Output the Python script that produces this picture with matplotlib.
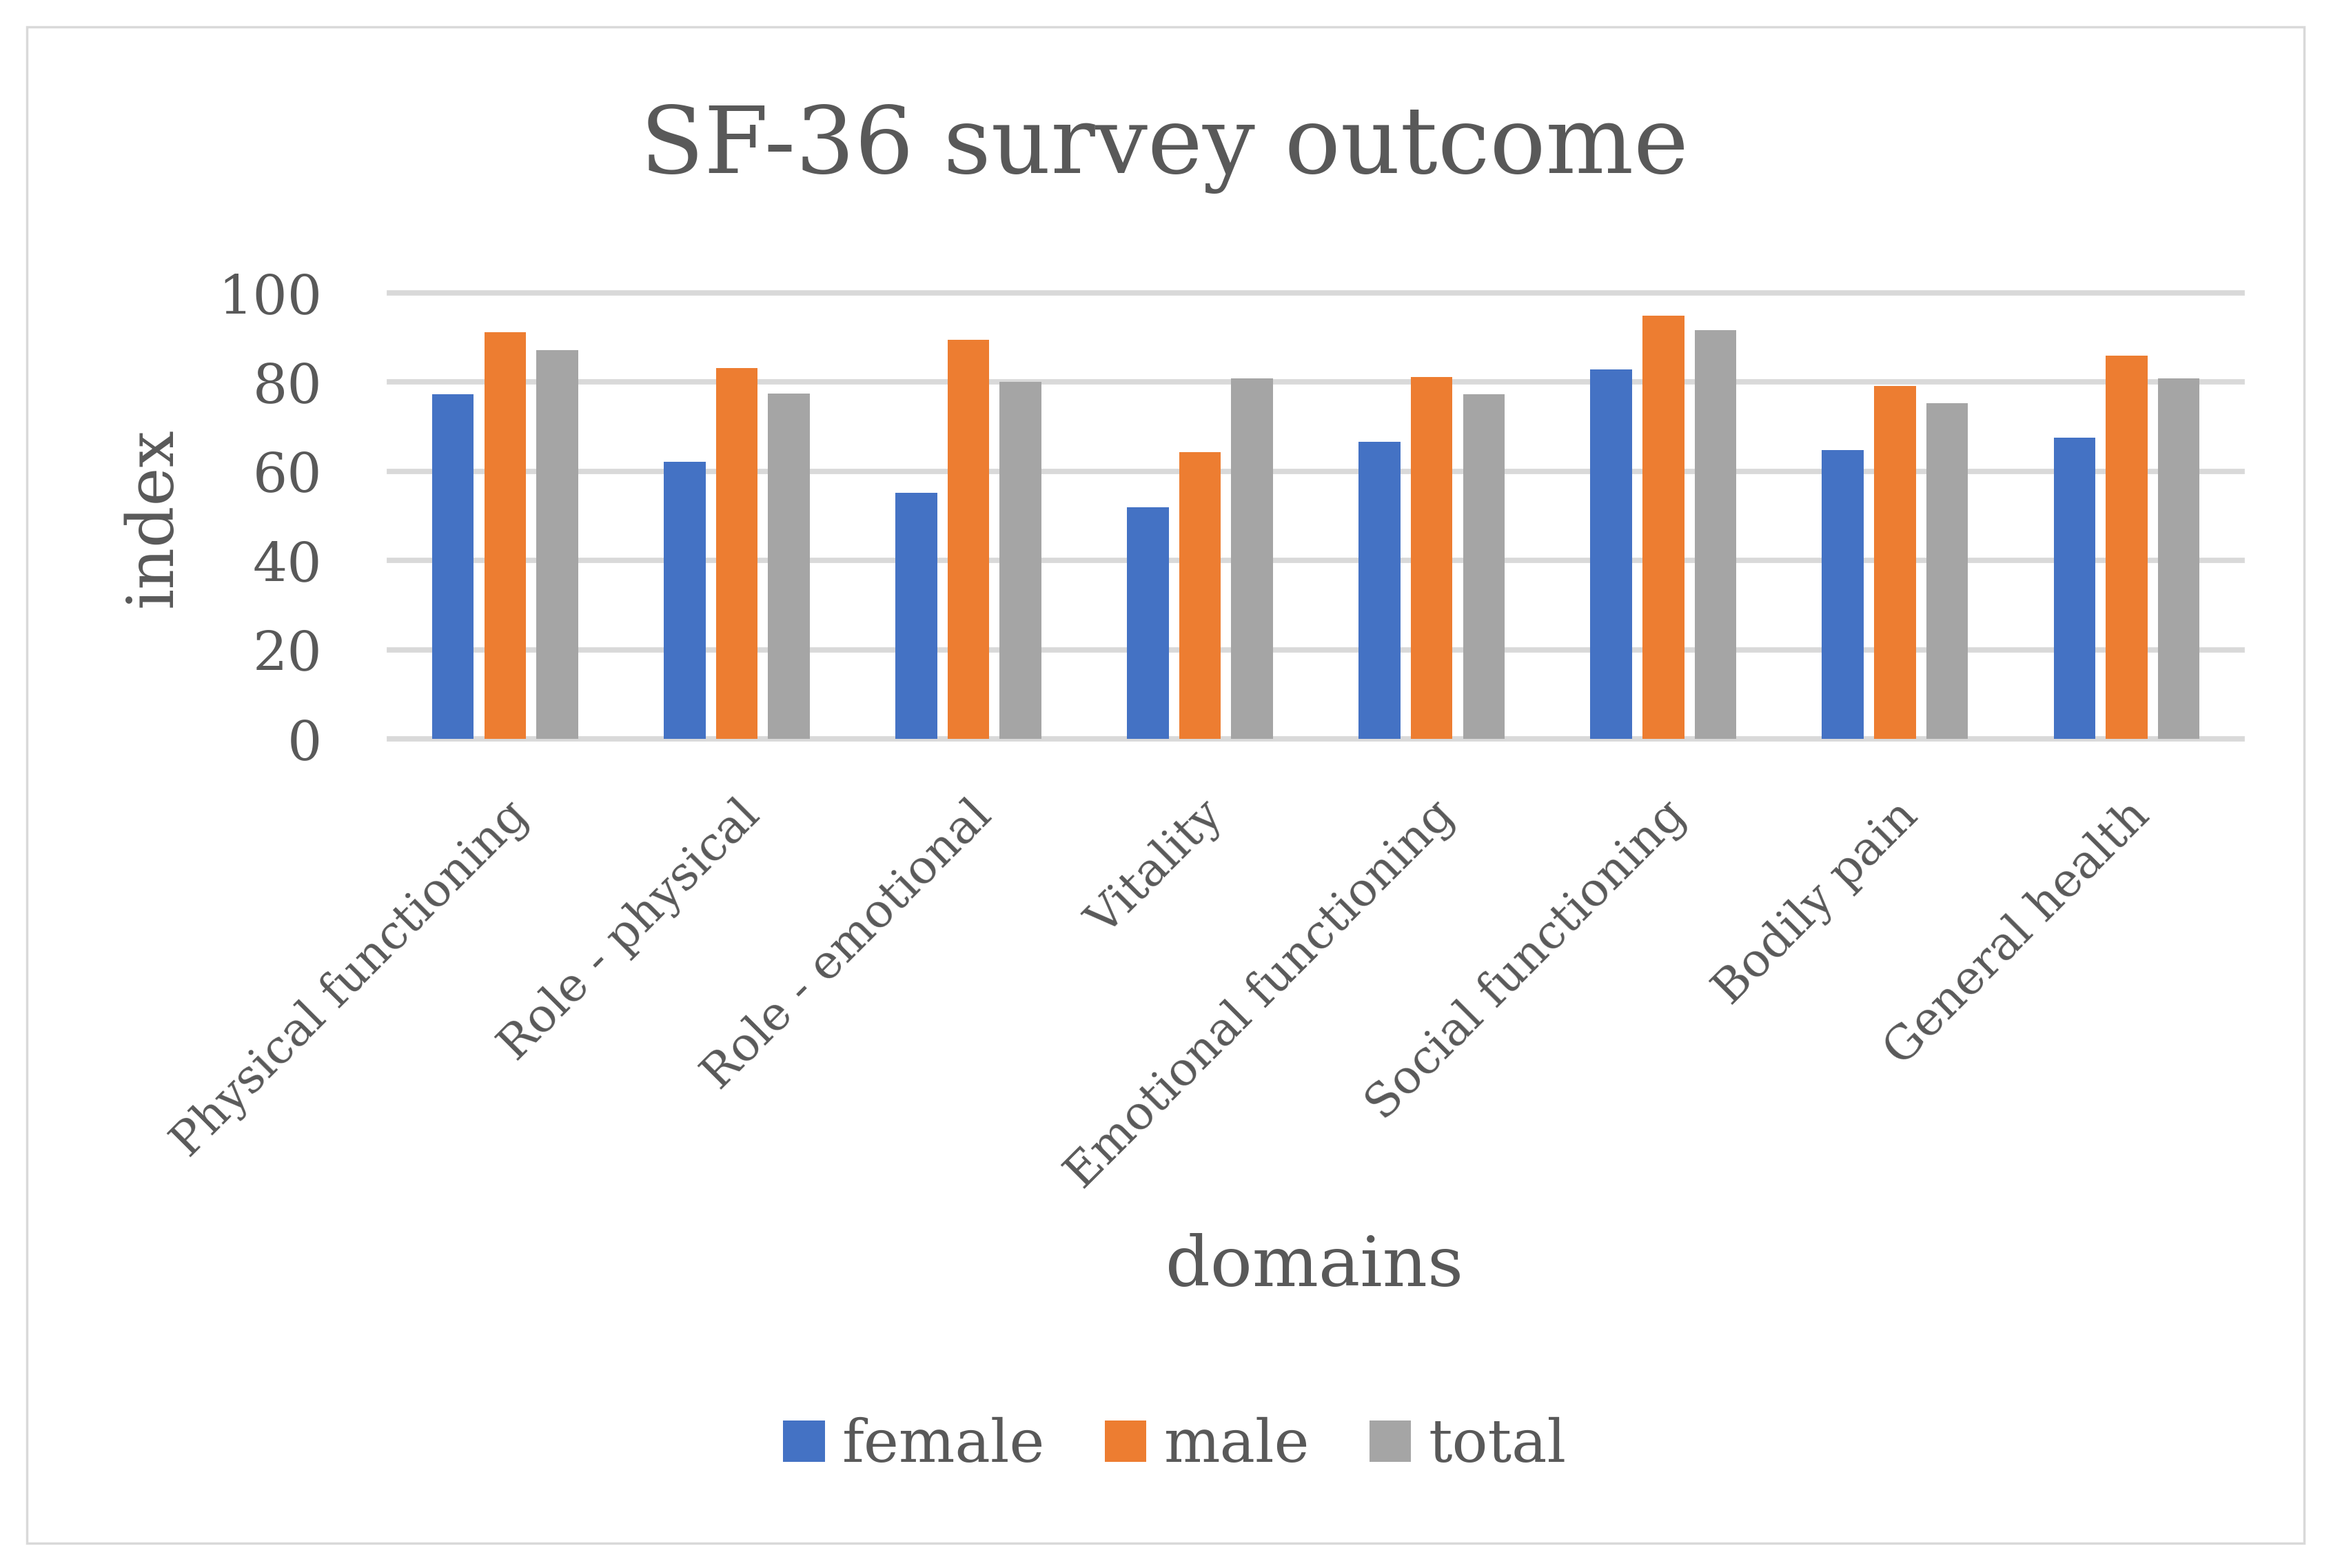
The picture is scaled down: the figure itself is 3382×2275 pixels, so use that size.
import matplotlib
matplotlib.use("Agg")
import matplotlib.pyplot as plt
import numpy as np
from matplotlib.patches import Rectangle
from matplotlib.transforms import ScaledTranslation

domains = ["Physical functioning", "Role - physical", "Role - emotional", "Vitality",
           "Emotional functioning", "Social functioning", "Bodily pain", "General health"]
female = [77.2, 62.1, 55.2, 51.9, 66.6, 82.9, 64.7, 67.5]
male = [91.2, 83.2, 89.5, 64.3, 81.2, 94.9, 79.2, 86.0]
total = [87.2, 77.5, 80.1, 80.9, 77.2, 91.7, 75.2, 80.9]
yticks = [0, 20, 40, 60, 80, 100]

txt = "#595959"
grid = "#D9D9D9"
plt.rcParams['font.family'] = ['DejaVu Serif']

fig = plt.figure(figsize=(33.82, 22.75), dpi=100)
ax = fig.add_axes([0.167, 0.5288, 0.795, 0.2844])

x = np.arange(len(domains))
w = 0.18
step = 0.225
ax.bar(x - step, female, w, color="#4472C4", label="female", zorder=3)
ax.bar(x, male, w, color="#ED7D31", label="male", zorder=3)
ax.bar(x + step, total, w, color="#A5A5A5", label="total", zorder=3)

ax.set_xlim(-0.5, len(domains) - 0.5)
ax.set_ylim(0, 100)
ax.set_yticks(yticks)
ax.set_yticklabels([str(v) for v in yticks], fontsize=57, color=txt)
for v in yticks:
    ax.axhline(v, color=grid, lw=5.6, zorder=1, clip_on=False)
for s in ax.spines.values():
    s.set_visible(False)
ax.tick_params(axis='y', length=0, pad=70)
ax.tick_params(axis='x', length=0, pad=56)

ax.set_xticks(x)
ax.set_xticklabels(domains, rotation=45, ha='right', va='top', rotation_mode='anchor',
                   fontsize=49, color=txt)
for lab in ax.get_xticklabels():
    lab.set_transform(lab.get_transform() + ScaledTranslation(0.0, 0, fig.dpi_scale_trans))

fig.text(0.4994, 0.905, "SF-36 survey outcome", fontsize=97, color=txt, ha='center', va='center')
fig.text(0.564, 0.192, "domains", fontsize=73, color=txt, ha='center', va='center')
fig.text(0.0657, 0.670, "index", fontsize=68, color=txt, ha='center', va='center', rotation=90)

fig.legend(loc='center', bbox_to_anchor=(0.504, 0.078), ncol=3, frameon=False,
           fontsize=62, labelcolor=txt, handlelength=0.7, handleheight=0.7,
           handletextpad=0.3, columnspacing=1.0)

fig.patches.append(Rectangle((0.0115, 0.0158), 0.977, 0.967, transform=fig.transFigure,
                             fill=False, edgecolor=grid, lw=2.5))

fig.savefig("out.png", dpi=100, facecolor="white")
